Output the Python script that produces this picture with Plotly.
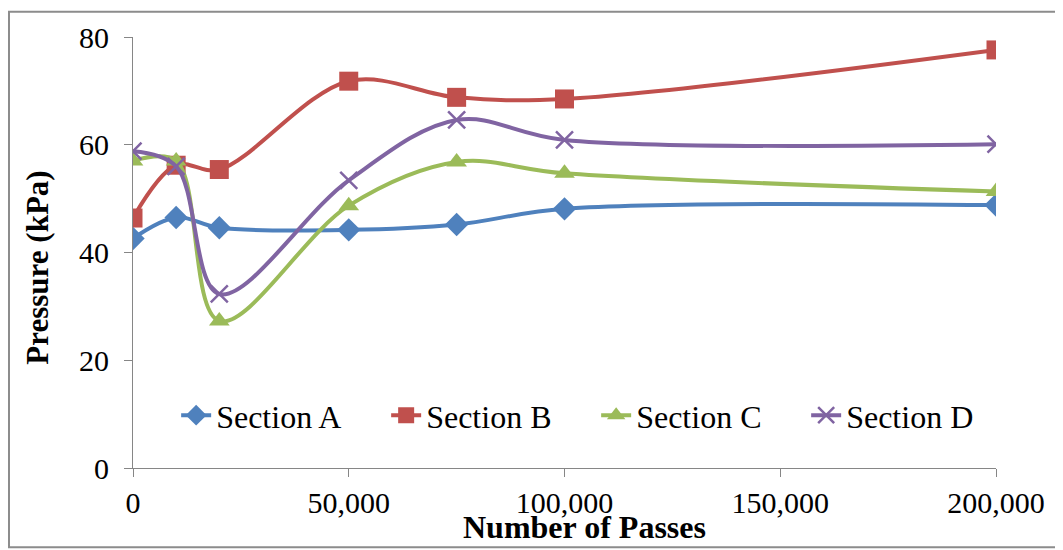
import plotly.graph_objects as go

passes = [0, 10000, 20000, 50000, 75000, 100000, 200000]
section_a = [42.6, 46.5, 44.6, 44.2, 45.2, 48.1, 48.8]
section_b = [46.4, 56.2, 55.4, 71.8, 68.8, 68.5, 77.6]
section_c = [57.0, 57.0, 27.3, 48.7, 56.8, 54.7, 51.3]
section_d = [58.8, 56.0, 32.3, 53.4, 64.6, 60.9, 60.1]

x_ticks = [0, 50000, 100000, 150000, 200000]
x_tick_labels = ["0", "50,000", "100,000", "150,000", "200,000"]
y_ticks = [0, 20, 40, 60, 80]

FONT = "Liberation Serif"

series = [
    ("Section A", section_a, "#4F81BD", dict(symbol="diamond", size=18)),
    ("Section B", section_b, "#C0504D", dict(symbol="square", size=19)),
    ("Section C", section_c, "#9BBB59", dict(symbol="triangle-up", size=18)),
    ("Section D", section_d, "#8064A2", dict(symbol="x-thin", size=17)),
]

fig = go.Figure()
for name, vals, col, mk in series:
    marker = dict(color=col, **mk)
    if mk["symbol"] == "x-thin":
        marker["line"] = dict(color=col, width=2.5)
    else:
        marker["line"] = dict(width=0)
    fig.add_trace(go.Scatter(
        x=passes, y=vals, name=name, mode="lines+markers",
        line=dict(color=col, width=4, shape="spline", smoothing=1),
        marker=marker,
    ))

axis_common = dict(
    showgrid=False, zeroline=False, showline=True, linecolor="#868686", linewidth=1,
    ticks="outside", ticklen=8, tickcolor="#868686", tickwidth=1,
    tickfont=dict(family=FONT, size=30, color="#000000"),
)

# page has an 8px body margin, so the figure is sized/offset to compensate
fig.update_layout(
    width=1055, height=542,
    margin=dict(l=125, r=67, t=26, b=82),
    paper_bgcolor="white", plot_bgcolor="white",
    xaxis=dict(range=[0, 200000], tickvals=x_ticks, ticktext=x_tick_labels, **axis_common),
    yaxis=dict(range=[0, 80], tickvals=y_ticks, ticklabelstandoff=9, **axis_common),
    showlegend=True,
    legend=dict(
        orientation="h", x=0.05, y=0.122, xanchor="left", yanchor="middle",
        font=dict(family=FONT, size=32, color="#000000"),
        bgcolor="rgba(0,0,0,0)", entrywidth=165, entrywidthmode="pixels",
    ),
    annotations=[
        dict(text="<b>Number of Passes</b>", xref="paper", yref="paper",
             x=0.523, y=-0.137, xanchor="center", yanchor="middle", showarrow=False,
             font=dict(family=FONT, size=32, color="#000000")),
        dict(text="<b>Pressure (kPa)</b>", xref="paper", yref="paper",
             x=-0.110, y=0.465, xanchor="center", yanchor="middle", showarrow=False,
             textangle=-90, font=dict(family=FONT, size=31, color="#000000")),
    ],
    shapes=[
        dict(type="rect", xref="paper", yref="paper",
             x0=-0.1437, x1=1.073, y0=-0.184, y1=1.0588,
             line=dict(color="#8c8c8c", width=2), fillcolor="rgba(0,0,0,0)", layer="below"),
    ],
)

fig.write_html("out.html")
